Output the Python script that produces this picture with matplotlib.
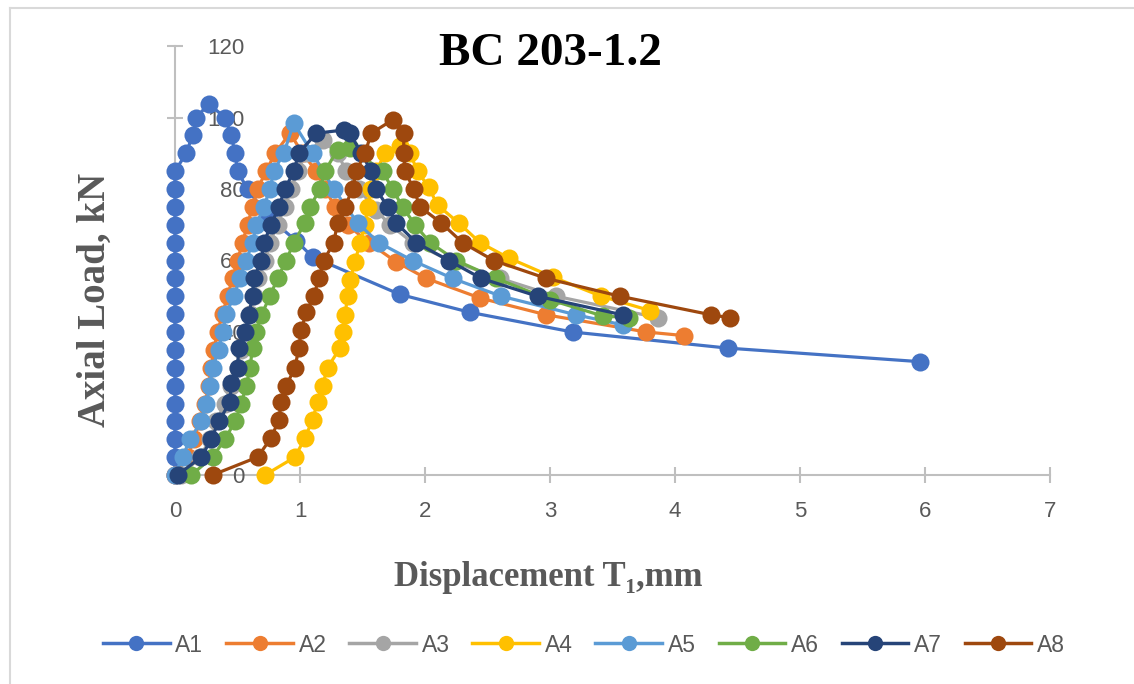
"""
BC 203-1.2 load-displacement curves
"""
import matplotlib.pyplot as plt
from matplotlib.lines import Line2D

# displacement T1 (mm) and axial load (kN) for each gauge
A1_x = [0.0, 0.0, 0.0, 0.0, 0.0, 0.0, 0.0, 0.0, 0.0, 0.0, 0.0, 0.0, 0.0, 0.0, 0.0, 0.0, 0.0, 0.0,
        0.09, 0.14, 0.17, 0.27, 0.4, 0.45, 0.48, 0.5, 0.58, 0.75, 0.97, 1.1, 1.8, 2.36, 3.18, 4.42, 5.96]
A1_y = [0, 5, 10, 15, 20, 25, 30, 35, 40, 45, 50, 55, 60, 65, 70, 75, 80, 85,
        90, 95, 100, 103.8, 100, 95, 90, 85, 80, 72, 65.5, 61, 50.5, 45.5, 40, 35.5, 31.7]

A2_x = [0.0, 0.1, 0.15, 0.2, 0.24, 0.27, 0.29, 0.31, 0.34, 0.38, 0.42, 0.46, 0.5, 0.54, 0.58, 0.62,
        0.66, 0.73, 0.8, 0.92, 1.02, 1.13, 1.2, 1.28, 1.38, 1.55, 1.77, 2.01, 2.44, 2.97, 3.77, 4.07]
A2_y = [0, 5, 10, 15, 20, 25, 30, 35, 40, 45, 50, 55, 60, 65, 70, 75,
        80, 85, 90, 95.6, 90, 85, 80, 75, 70, 65, 59.6, 55, 49.5, 44.8, 40, 39]

A3_x = [0.05, 0.2, 0.28, 0.33, 0.4, 0.45, 0.5, 0.53, 0.57, 0.6, 0.63, 0.66, 0.72, 0.76, 0.82,
        0.88, 0.93, 0.98, 1.05, 1.18, 1.3, 1.37, 1.47, 1.61, 1.72, 1.9, 2.2, 2.6, 3.05, 3.86]
A3_y = [0, 5, 10, 15, 20, 25, 30, 35, 40, 45, 50, 55, 60, 65, 70,
        75, 80, 85, 90, 93.7, 90, 85, 80, 74, 70, 65, 60, 55, 50, 44]

A4_x = [0.72, 0.96, 1.04, 1.1, 1.14, 1.18, 1.22, 1.32, 1.34, 1.36, 1.38, 1.4, 1.44, 1.48, 1.52,
        1.54, 1.57, 1.61, 1.68, 1.8, 1.88, 1.94, 2.03, 2.1, 2.27, 2.44, 2.67, 3.02, 3.41, 3.8]
A4_y = [0, 5, 10.4, 15.4, 20.4, 25, 30, 35.5, 40, 44.7, 50, 54.5, 59.6, 65, 70,
        75, 80, 85, 90, 92, 90, 85, 80.5, 75.5, 70.5, 65, 60.7, 55.4, 50, 46]

A5_x = [0.0, 0.06, 0.12, 0.21, 0.25, 0.28, 0.3, 0.35, 0.38, 0.41, 0.47, 0.52, 0.57, 0.62, 0.65,
        0.71, 0.76, 0.79, 0.87, 0.95, 1.1, 1.27, 1.46, 1.63, 1.9, 2.22, 2.61, 3.21, 3.58]
A5_y = [0, 5, 10, 15, 20, 25, 30, 35, 40, 45, 50, 55, 60, 65, 70,
        75, 80, 85, 90, 98.4, 90, 80, 70.5, 65, 60, 55, 50, 44.8, 42]

A6_x = [0.13, 0.3, 0.4, 0.48, 0.53, 0.57, 0.6, 0.62, 0.65, 0.69, 0.76, 0.82, 0.89, 0.95, 1.04,
        1.08, 1.16, 1.2, 1.3, 1.4, 1.66, 1.74, 1.82, 1.92, 2.04, 2.25, 2.57, 3.0, 3.42, 3.63]
A6_y = [0, 5, 10, 15, 20, 25, 30, 35.5, 40, 44.7, 50, 55, 60, 65, 70.5,
        75, 80, 85, 91, 91.5, 85, 80, 75, 70, 65, 60, 55, 49, 44.5, 44]

A7_x = [0.02, 0.21, 0.29, 0.35, 0.44, 0.45, 0.5, 0.51, 0.56, 0.59, 0.62, 0.63, 0.69, 0.71, 0.77, 0.83,
        0.88, 0.95, 0.99, 1.13, 1.35, 1.4, 1.49, 1.57, 1.61, 1.7, 1.77, 1.93, 2.19, 2.45, 2.9, 3.58]
A7_y = [0, 5, 10, 15, 20.4, 25.7, 30, 35.5, 40, 44.7, 50, 55, 60, 65, 70, 75,
        80, 85, 90, 95.6, 96.5, 95.6, 90, 85, 80, 75, 70.5, 65, 60, 55, 50, 44.8]

A8_x = [0.3, 0.66, 0.77, 0.83, 0.85, 0.89, 0.96, 0.99, 1.01, 1.05, 1.11, 1.15, 1.19, 1.27, 1.3, 1.36, 1.42,
        1.45, 1.52, 1.57, 1.74, 1.83, 1.83, 1.84, 1.91, 1.96, 2.13, 2.3, 2.55, 2.97, 3.56, 4.29, 4.44]
A8_y = [0, 5, 10.4, 15.4, 20.4, 25, 30, 35.5, 40.5, 45.6, 50, 55, 60, 65, 70.5, 75, 80,
        85, 90, 95.6, 99.3, 95.6, 90, 85, 80, 75, 70.5, 65, 60, 55, 50, 44.8, 44]

labels = ["A1", "A2", "A3", "A4", "A5", "A6", "A7", "A8"]
colors = ["#4472C4", "#ED7D31", "#A5A5A5", "#FFC000", "#5B9BD5", "#70AD47", "#264478", "#9E480E"]
xs = [A1_x, A2_x, A3_x, A4_x, A5_x, A6_x, A7_x, A8_x]
ys = [A1_y, A2_y, A3_y, A4_y, A5_y, A6_y, A7_y, A8_y]

x_ticks = [0, 1, 2, 3, 4, 5, 6, 7]
y_ticks = [0, 20, 40, 60, 80, 100, 120]

grey = "#595959"
axis_grey = "#BFBFBF"

fig = plt.figure(figsize=(11.34, 6.84), dpi=100)
ax = fig.add_axes([175 / 1134, 1 - 475 / 684, 875 / 1134, 429 / 684])

for x, y, lab, c in zip(xs, ys, labels, colors):
    ax.plot(x, y, color=c, lw=2.3, marker="o", markersize=13, markeredgewidth=0,
            label=lab, clip_on=False)

ax.set_xlim(0, 7)
ax.set_ylim(0, 120)
ax.set_xticks(x_ticks)
ax.set_yticks(y_ticks)
ax.set_xticklabels([str(v) for v in x_ticks])
ax.set_yticklabels([str(v) for v in y_ticks])

for s in ["top", "right"]:
    ax.spines[s].set_visible(False)
for s in ["left", "bottom"]:
    ax.spines[s].set_color(axis_grey)
    ax.spines[s].set_linewidth(1.5)
    ax.spines[s].set_zorder(0)

ax.tick_params(axis="both", direction="inout", length=11.5, width=1.5, color=axis_grey,
               labelcolor=grey, labelsize=16)
ax.tick_params(axis="x", pad=13)
ax.tick_params(axis="y", pad=-56)
for t in ax.get_xticklabels() + ax.get_yticklabels():
    t.set_fontfamily("Liberation Sans")

serif = ["Liberation Serif", "DejaVu Serif"]
fig.text(550 / 1134, 1 - 54 / 684, "BC 203-1.2", ha="center", va="center",
         fontsize=34, fontweight="bold", family=serif, color="black")
fig.text(95 / 1134, 1 - 300 / 684, "Axial Load, kN", ha="center", va="center", rotation=90,
         fontsize=28, fontweight="bold", family=serif, color=grey)
fig.text(548 / 1134, 1 - 577 / 684, "Displacement T\u2081,mm", ha="center", va="center",
         fontsize=25, fontweight="bold", family=serif, color=grey)

handles = [Line2D([], [], color=c, lw=2.5, marker="o", markersize=11, markeredgewidth=0)
           for c in colors]
leg = fig.legend(handles, labels, loc="center", bbox_to_anchor=(584 / 1134, 1 - 645 / 684),
                 ncol=8, frameon=False, handlelength=2.9, handletextpad=0.25,
                 columnspacing=1.0, prop={"family": "Liberation Sans", "size": 16.5})
for t in leg.get_texts():
    t.set_color(grey)

# thin frame of the chart area
fig.add_artist(Line2D([10 / 1134, 10 / 1134], [0, 1 - 8 / 684], transform=fig.transFigure,
                      color="#D9D9D9", lw=1.5))
fig.add_artist(Line2D([10 / 1134, 1], [1 - 8 / 684, 1 - 8 / 684], transform=fig.transFigure,
                      color="#D9D9D9", lw=1.5))

fig.savefig("out.png", dpi=100)
